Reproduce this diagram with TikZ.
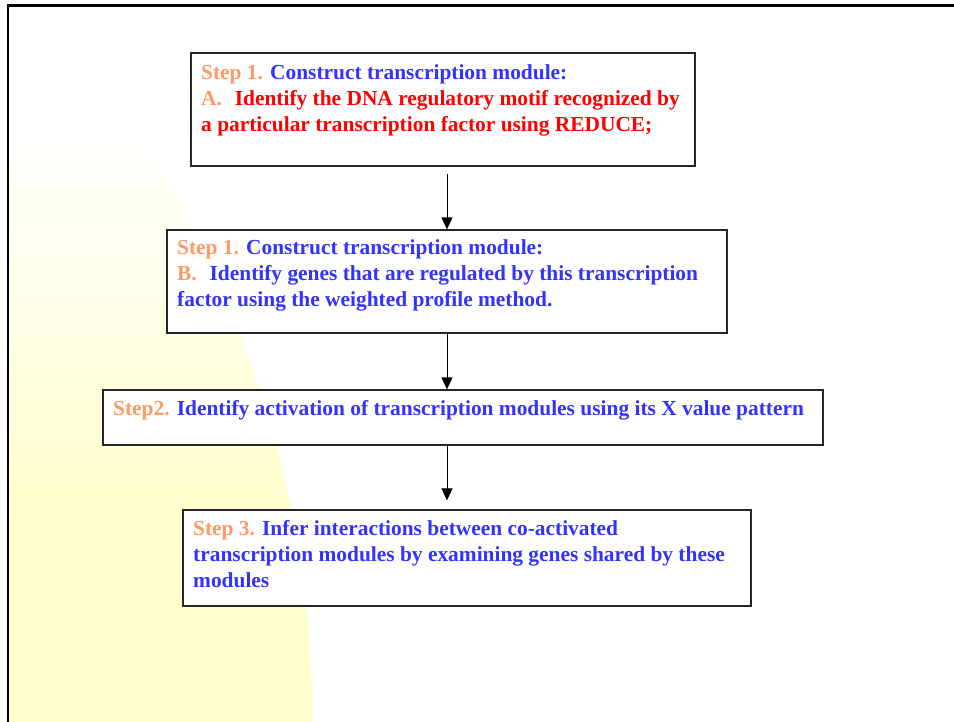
\documentclass[tikz,border=0pt]{standalone}
\usepackage{fontspec}
\setmainfont{Liberation Serif}
\usetikzlibrary{arrows.meta}
\definecolor{stepor}{HTML}{FF9966}
\definecolor{stepbl}{HTML}{3333FF}
\definecolor{stepred}{HTML}{FF0000}
\definecolor{glow}{HTML}{FFFFCC}
\begin{document}
\begin{tikzpicture}[x=1pt,y=-1pt,
  stepbox/.style={draw=black!85,line width=1.3pt,fill=white,rectangle,inner sep=0pt},
  txt/.style={anchor=base west,inner sep=0pt,font=\fontsize{21.4}{26}\selectfont\bfseries},
  flow/.style={draw=black,line width=1pt,-{Triangle[width=11pt,length=12pt]}}]
\useasboundingbox (0,0) rectangle (954,722);
\fill[white] (0,0) rectangle (954,722);
% soft yellow glow on the left side
\begin{scope}
  \clip (-760,720) circle (1072);
  \shade[top color=white,bottom color=glow] (8,130) rectangle (340,520);
  \fill[glow] (8,519) rectangle (340,722);
\end{scope}
% slide frame
\draw[line width=2.5pt] (954,5.5) -- (8,5.5) -- (8,722);
% boxes
\node[stepbox,minimum width=504,minimum height=113] (b1) at (443,109.5) {};
\node[stepbox,minimum width=560,minimum height=103] (b2) at (447,281.5) {};
\node[stepbox,minimum width=720,minimum height=55] (b3) at (463,417.5) {};
\node[stepbox,minimum width=568,minimum height=96] (b4) at (467,558) {};
% texts
\node[txt] (t11) at (201,80) {\textcolor{stepor}{Step 1.} \textcolor{stepbl}{Construct transcription module:}};
\node[txt] (t12) at (201,106) {\textcolor{stepor}{A.}\hspace{0.6em}\textcolor{stepred}{Identify the DNA regulatory motif recognized by}};
\node[txt] (t13) at (201,132) {\textcolor{stepred}{a particular transcription factor using REDUCE;}};
\node[txt] (t21) at (177,255) {\textcolor{stepor}{Step 1.} \textcolor{stepbl}{Construct transcription module:}};
\node[txt] (t22) at (177,281) {\textcolor{stepor}{B.}\hspace{0.6em}\textcolor{stepbl}{Identify genes that are regulated by this transcription}};
\node[txt] (t23) at (177,307) {\textcolor{stepbl}{factor using the weighted profile method.}};
\node[txt] (t31) at (113,415) {\textcolor{stepor}{Step2.} \textcolor{stepbl}{Identify activation of transcription modules using its X value pattern}};
\node[txt] (t41) at (193,535) {\textcolor{stepor}{Step 3.} \textcolor{stepbl}{Infer interactions between co-activated}};
\node[txt] (t42) at (193,561) {\textcolor{stepbl}{transcription modules by examining genes shared by these}};
\node[txt] (t43) at (193,587) {\textcolor{stepbl}{modules}};
% connectors
\draw[flow,shorten <=7pt] (b1.south -| b2.north) -- (b2.north);
\draw[flow] (b2.south) -- (b3.north -| b2.south);
\draw[flow,shorten >=9pt] (b3.south -| b2.south) -- (b4.north -| b2.south);
\end{tikzpicture}
\end{document}
